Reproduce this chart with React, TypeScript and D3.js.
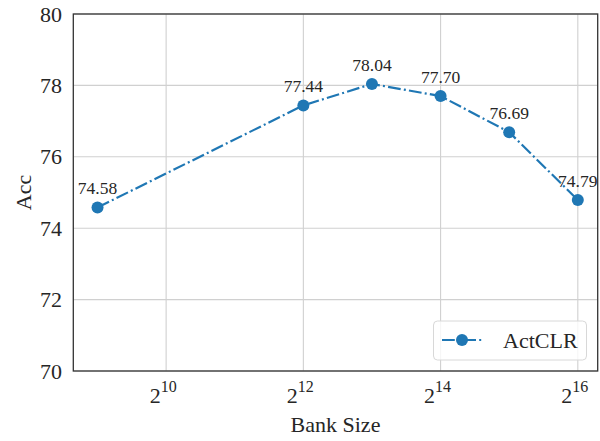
import React from "react";
import * as d3 from "d3";

const exponents = [9, 12, 13, 14, 15, 16];
const accValues = [74.58, 77.44, 78.04, 77.7, 76.69, 74.79];
const yTicks = [70, 72, 74, 76, 78, 80];
const xTickExps = [10, 12, 14, 16];
const seriesName = "ActCLR";

const W = 600;
const H = 441;
const left = 73.3;
const right = 597.7;
const top = 14;
const bottom = 371;
const color = "#1f77b4";
const font = "'Liberation Serif', 'Times New Roman', serif";

export default function App() {
  const x = d3.scaleLinear().domain([8.647, 16.29]).range([left, right]);
  const y = d3.scaleLinear().domain([70, 80]).range([bottom, top]);
  const pts = exponents.map((e, i) => [x(e), y(accValues[i])] as [number, number]);
  const line = d3.line()(pts) || "";
  const dash = "12.8 3.2 2 3.2";
  const lx = 442, ly = 340;
  return (
    <svg width={W} height={H} style={{ position: "absolute", left: 0, top: 0 }} fontFamily={font}>
      <rect x={0} y={0} width={W} height={H} fill="#fff" />
      {xTickExps.map((e) => (
        <line key={"gx" + e} x1={x(e)} x2={x(e)} y1={top} y2={bottom} stroke="#d0d0d0" strokeWidth={1.1} />
      ))}
      {yTicks.map((t) => (
        <line key={"gy" + t} x1={left} x2={right} y1={y(t)} y2={y(t)} stroke="#d0d0d0" strokeWidth={1.1} />
      ))}
      <path d={line} fill="none" stroke={color} strokeWidth={2.2} strokeDasharray={dash} />
      {pts.map((p, i) => (
        <circle key={"c" + i} cx={p[0]} cy={p[1]} r={6} fill={color} />
      ))}
      {pts.map((p, i) => (
        <text key={"l" + i} x={p[0]} y={p[1] - 13} textAnchor="middle" fontSize={17.5} fill="#262626">
          {accValues[i].toFixed(2)}
        </text>
      ))}
      <rect x={left} y={top} width={right - left} height={bottom - top} fill="none" stroke="#333" strokeWidth={1.3} />
      {yTicks.map((t) => (
        <text key={"ty" + t} x={62} y={y(t) + 7.5} textAnchor="end" fontSize={22} fill="#262626">
          {t}
        </text>
      ))}
      {xTickExps.map((e) => (
        <text key={"tx" + e} x={x(e) - 3} y={403} textAnchor="middle" fontSize={22} fill="#262626">
          <tspan>2</tspan>
          <tspan dy={-11} fontSize={16}>{e}</tspan>
        </text>
      ))}
      <text x={(left + right) / 2} y={432} textAnchor="middle" fontSize={22} fill="#262626">
        Bank Size
      </text>
      <text transform={`translate(31,${(top + bottom) / 2}) rotate(-90)`} textAnchor="middle" fontSize={22} fill="#262626">
        Acc
      </text>
      <rect x={433.5} y={321} width={153} height={39} rx={4} fill="#fff" fillOpacity={0.8} stroke="#d8d8d8" strokeWidth={1} />
      <line x1={lx} x2={lx + 40} y1={ly} y2={ly} stroke={color} strokeWidth={2.2} strokeDasharray={dash} />
      <circle cx={lx + 20} cy={ly} r={6} fill={color} />
      <text x={503} y={ly + 7.5} fontSize={22} fill="#262626">
        {seriesName}
      </text>
    </svg>
  );
}
